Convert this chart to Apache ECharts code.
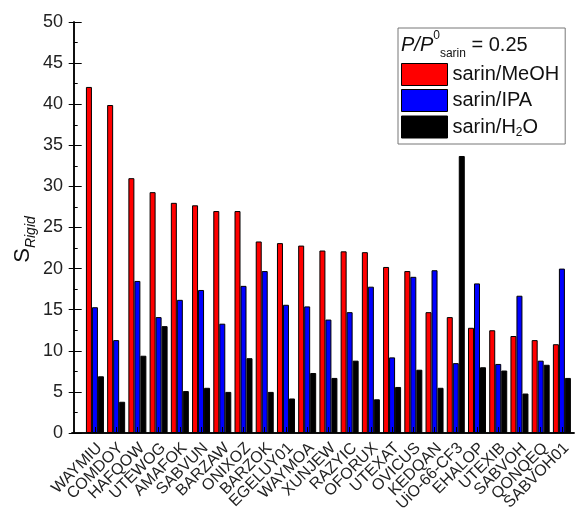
<!DOCTYPE html>
<html>
<head>
<meta charset="utf-8">
<script src="https://cdn.jsdelivr.net/npm/echarts@6/dist/echarts.min.js"></script>
<style>
  html, body { margin: 0; padding: 0; background: #fff; }
  #chart { width: 575px; height: 514px; }
</style>
</head>
<body>
<div id="chart"></div>
<script>
// structures, in the order of the plot
const categories = ["WAYMIU", "COMDOY", "HAFQOW", "UTEWOG", "AMAFOK", "SABVUN", "BARZAW",
  "ONIXOZ", "BARZOK", "EGELUY01", "WAYMOA", "XUNJEW", "RAZYIC", "OFORUX", "UTEXAT",
  "OVICUS", "KEDQAN", "UiO-66-CF3", "EHALOP", "UTEXIB", "SABVOH", "QONQEQ", "SABVOH01"];
// S_Rigid values
const meoh = [42.1, 39.9, 31.0, 29.3, 28.0, 27.7, 27.0, 27.0, 23.3, 23.1, 22.8, 22.2,
  22.1, 22.0, 20.2, 19.7, 14.7, 14.1, 12.8, 12.5, 11.8, 11.3, 10.8];
const ipa = [15.3, 11.3, 18.5, 14.1, 16.2, 17.4, 13.3, 17.9, 19.7, 15.6, 15.4, 13.8,
  14.7, 17.8, 9.2, 19.0, 19.8, 8.5, 18.2, 8.4, 16.7, 8.8, 20.0];
const water = [6.9, 3.8, 9.4, 13.0, 5.1, 5.5, 5.0, 9.1, 5.0, 4.2, 7.3, 6.7,
  8.8, 4.1, 5.6, 7.7, 5.5, 33.7, 8.0, 7.6, 4.8, 8.3, 6.7];
const yTicks = [0, 5, 10, 15, 20, 25, 30, 35, 40, 45, 50];

const positions = categories.map((c, i) => i + 1);
// empty labels at both ends so echarts' min/max label check hides nothing real
const labelPositions = [0].concat(positions, [23.5]);
const pairs = arr => arr.map((v, i) => [i + 1, v]);

const chart = echarts.init(document.getElementById("chart"));

const barBorder = { borderColor: "#000", borderWidth: 1 };

chart.setOption({
  animation: false,
  textStyle: { fontFamily: "Liberation Sans, Arial, sans-serif" },
  title: {
    left: 401,
    top: 30,
    padding: 0,
    text: "{i|P/P}{sup|0}{sub|sarin}{n| = 0.25}",
    textStyle: {
      fontWeight: "normal",
      rich: {
        i: { fontSize: 20, fontStyle: "italic", fontWeight: "normal", color: "#111", lineHeight: 28 },
        sup: { fontSize: 12, fontWeight: "normal", color: "#111", verticalAlign: "top", lineHeight: 28 },
        sub: { fontSize: 12, fontWeight: "normal", color: "#111", verticalAlign: "bottom", lineHeight: 30 },
        n: { fontSize: 20, fontWeight: "normal", color: "#111", lineHeight: 28 }
      }
    }
  },
  legend: {
    orient: "vertical",
    left: 398,
    top: 28,
    padding: [35, 6, 5, 3],
    borderColor: "#777",
    borderWidth: 1,
    itemWidth: 46,
    itemHeight: 22,
    itemGap: 3,
    icon: "rect",
    itemStyle: { borderColor: "#000", borderWidth: 1 },
    textStyle: {
      fontSize: 20,
      color: "#111",
      lineHeight: 22,
      rich: {
        sub: { fontSize: 12, color: "#111", verticalAlign: "bottom", lineHeight: 24 }
      }
    },
    formatter: name => name === "sarin/H2O" ? "sarin/H{sub|2}O" : name
  },
  grid: { left: 72, right: 1, top: 22, bottom: 81, outerBoundsMode: "none", containLabel: false },
  xAxis: [
    {
      type: "value",
      min: -0.08,
      max: 23.57,
      z: 5,
      axisLine: { show: true, onZero: false, lineStyle: { color: "#000", width: 1.5 } },
      axisTick: {
        show: true, inside: true, length: 6, customValues: positions,
        lineStyle: { color: "#000", width: 1 }
      },
      axisLabel: {
        customValues: labelPositions,
        rotate: 45,
        align: "right",
        verticalAlign: "top",
        margin: 8,
        fontSize: 16,
        lineHeight: 13,
        color: "#222",
        showMinLabel: false,
        showMaxLabel: false,
        hideOverlap: false,
        formatter: v => categories[Math.round(v) - 1] || ""
      },
      splitLine: { show: false }
    },
    {
      type: "value",
      position: "top",
      min: -0.08,
      max: 23.57,
      axisLine: { show: true, lineStyle: { color: "#000", width: 1.5 } },
      axisTick: { show: false },
      axisLabel: { show: false },
      splitLine: { show: false }
    }
  ],
  yAxis: [
    {
      type: "value",
      min: 0,
      max: 50,
      interval: 5,
      name: "{s|S}{sub|Rigid}",
      nameLocation: "middle",
      nameRotate: 90,
      nameGap: 34,
      nameMoveOverlap: false,
      nameTextStyle: {
        padding: [0, 24, 0, 0],
        rich: {
          s: { fontSize: 22, color: "#111", lineHeight: 26, verticalAlign: "top" },
          sub: {
            fontSize: 14, fontStyle: "italic", color: "#111",
            lineHeight: 16, verticalAlign: "bottom", padding: [18, 0, 0, 0]
          }
        }
      },
      axisLine: { show: true, lineStyle: { color: "#000", width: 1.5 } },
      axisTick: { show: true, inside: true, length: 8, lineStyle: { color: "#000" } },
      minorTick: { show: true, splitNumber: 2, length: 4, lineStyle: { color: "#000" } },
      axisLabel: {
        fontSize: 18,
        color: "#222",
        margin: 9,
        customValues: yTicks
      },
      splitLine: { show: false },
      minorSplitLine: { show: false }
    },
    {
      type: "value",
      position: "right",
      min: 0,
      max: 50,
      interval: 5,
      axisLine: { show: true, lineStyle: { color: "#000", width: 1.5 } },
      axisTick: { show: true, inside: true, length: 5, lineStyle: { color: "#000" } },
      axisLabel: { show: false },
      splitLine: { show: false }
    }
  ],
  series: [
    {
      name: "sarin/MeOH", type: "bar", barWidth: 6, barGap: "0%",
      itemStyle: Object.assign({ color: "#ff0000" }, barBorder),
      data: pairs(meoh)
    },
    {
      name: "sarin/IPA", type: "bar", barWidth: 6, barGap: "0%",
      itemStyle: Object.assign({ color: "#0000ff" }, barBorder),
      data: pairs(ipa)
    },
    {
      name: "sarin/H2O", type: "bar", barWidth: 6, barGap: "0%",
      itemStyle: Object.assign({ color: "#000000" }, barBorder),
      data: pairs(water)
    }
  ]
});
</script>
</body>
</html>
